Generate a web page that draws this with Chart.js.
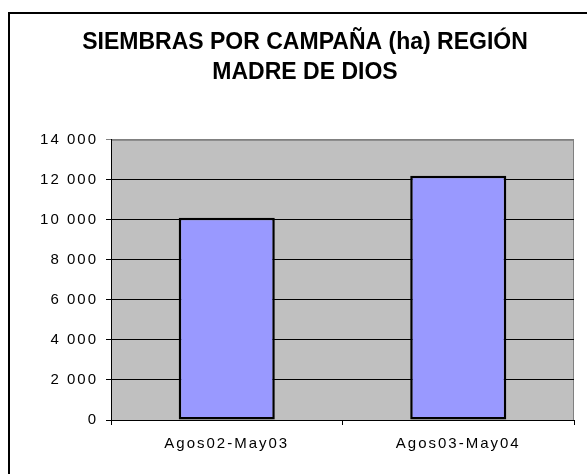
<!DOCTYPE html>
<html>
<head>
<meta charset="utf-8">
<script src="https://cdn.jsdelivr.net/npm/chart.js@4"></script>
<style>
  body { margin: 0; background: #fff; }
  #frame { position: absolute; left: 8px; top: 12px; width: 600px; height: 480px;
           border-top: 2px solid #000; border-left: 2px solid #000; }
  #wrap { position: absolute; left: 0; top: 0; width: 587px; height: 474px; }
</style>
</head>
<body>
<div id="frame"></div>
<div id="wrap"><canvas id="chart" width="587" height="474"></canvas></div>
<script>
const campaigns = ['Agos02-May03', 'Agos03-May04'];
const plantedHa = [10100, 12200];
const titleLines = ['SIEMBRAS POR CAMPAÑA (ha) REGIÓN', 'MADRE DE DIOS'];

// gray plot background + spaced tick labels
const plotBg = {
    id: 'plotBg',
    beforeDraw(chart) {
        const { ctx, chartArea: a } = chart;
        ctx.letterSpacing = '0px';
        ctx.save();
        ctx.fillStyle = '#c0c0c0';
        ctx.fillRect(a.left, a.top, a.right - a.left, a.bottom - a.top);
        ctx.strokeStyle = '#808080';
        ctx.lineWidth = 1;
        ctx.strokeRect(a.left + 0.5, a.top + 0.5, a.right - a.left - 1, a.bottom - a.top);
        ctx.restore();
    },
    beforeDatasetsDraw(chart) {
        chart.ctx.letterSpacing = '2px';
    },
    afterDraw(chart) {
        chart.ctx.letterSpacing = '0px';
    }
};

const ctx = document.querySelector('#chart');
new Chart(ctx, {
    type: 'bar',
    data: {
        labels: campaigns,
        datasets: [{
            data: plantedHa,
            backgroundColor: '#9999ff',
            borderColor: '#000',
            borderWidth: 2.5,
            borderSkipped: false,
            barPercentage: 0.415,
            categoryPercentage: 1
        }]
    },
    options: {
        responsive: false,
        animation: false,
        devicePixelRatio: 1,
        layout: { padding: { left: 36, right: 13, top: 28, bottom: 0 } },
        plugins: {
            legend: { display: false },
            tooltip: { enabled: false },
            title: {
                display: true,
                text: titleLines,
                color: '#000',
                font: { family: 'Liberation Sans, Arial', size: 23, weight: 'bold', lineHeight: 1.3 },
                padding: { top: 0, bottom: 52 }
            }
        },
        scales: {
            x: {
                offset: true,
                grid: { offset: true, drawOnChartArea: false, tickLength: 5, color: '#000' },
                border: { color: '#000', width: 1 },
                ticks: { color: '#000', padding: 10, z: 1,
                         font: { family: 'Liberation Sans, Arial', size: 15 } },
                afterFit(scale) { scale.height = 54; }
            },
            y: {
                min: 0,
                max: 14000,
                grid: {
                    color: c => (c.tick && c.tick.value === 14000) ? '#808080' : '#000',
                    tickLength: 5
                },
                border: { color: '#000', width: 1 },
                ticks: {
                    stepSize: 2000,
                    color: '#000',
                    padding: 8,
                    z: 1,
                    font: { family: 'Liberation Sans, Arial', size: 15 },
                    callback: v => v.toLocaleString('en-US').replace(',', ' ')
                },
                afterFit(scale) { scale.width = 75; }
            }
        }
    },
    plugins: [plotBg]
});
</script>
</body>
</html>
